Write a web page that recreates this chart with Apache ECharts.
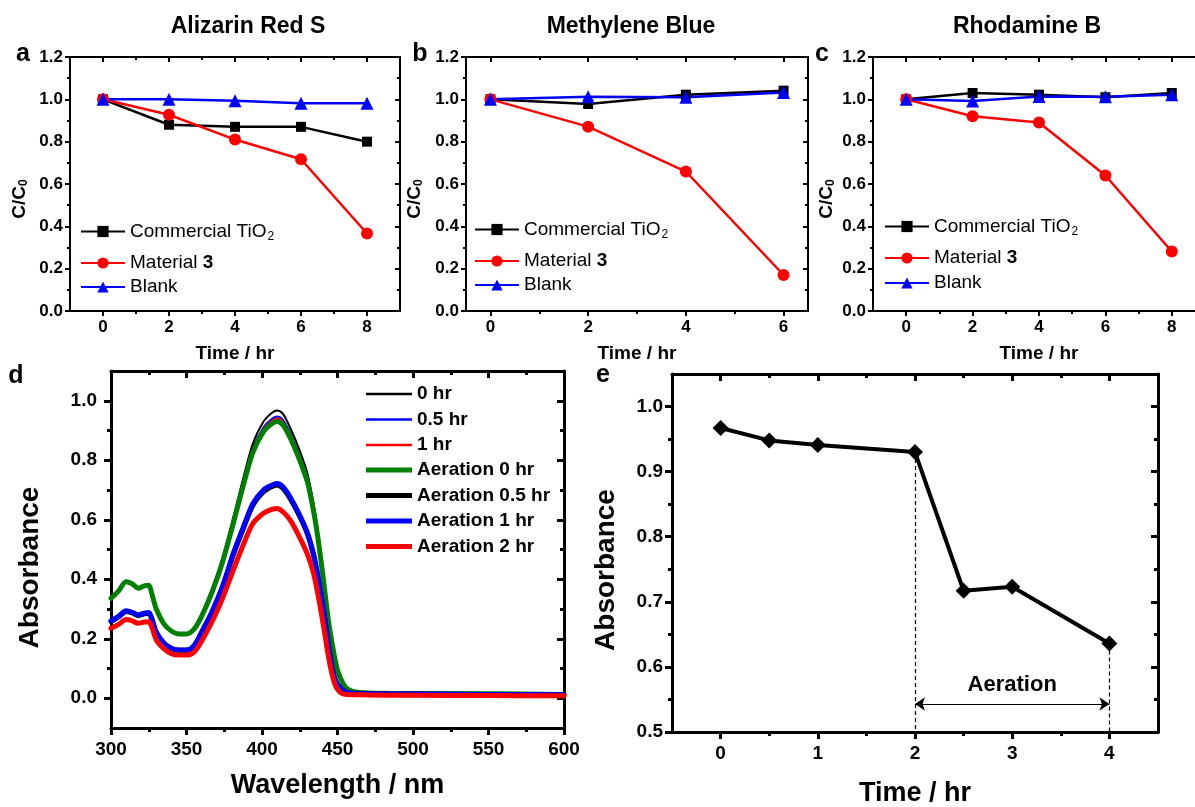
<!DOCTYPE html>
<html><head><meta charset="utf-8">
<script src="https://cdn.jsdelivr.net/npm/echarts@6/dist/echarts.min.js"></script>
<style>html,body{margin:0;padding:0;background:#fff}#c{width:1195px;height:807px}</style>
</head><body><div id="c"></div>
<script>
// ---------------- data ----------------
// panel a : Alizarin Red S
const timeA  = [0, 2, 4, 6, 8];
const tio2A  = [1.00, 0.880, 0.870, 0.870, 0.800];
const mat3A  = [1.00, 0.927, 0.810, 0.717, 0.366];
const blankA = [1.00, 1.000, 0.993, 0.982, 0.982];
// panel b : Methylene Blue
const timeB  = [0, 2, 4, 6];
const tio2B  = [1.00, 0.978, 1.022, 1.041];
const mat3B  = [1.00, 0.871, 0.659, 0.170];
const blankB = [1.00, 1.012, 1.010, 1.032];
// panel c : Rhodamine B
const timeC  = [0, 2, 4, 6, 8];
const tio2C  = [1.00, 1.030, 1.022, 1.010, 1.030];
const mat3C  = [1.00, 0.920, 0.891, 0.640, 0.281];
const blankC = [1.00, 0.992, 1.013, 1.012, 1.022];
// panel d : UV-vis spectra
const wavelengths = [300,305,310,314,318,322,325,327,330,335,340,345,350,355,360,367,374,381,388,394,401,406,410,414,419,425,430,434,437,441,444,447,450,455,460,470,500,550,600];
const abs0h   = [0.338,0.362,0.395,0.388,0.372,0.380,0.382,0.354,0.302,0.252,0.227,0.217,0.217,0.234,0.280,0.368,0.475,0.608,0.748,0.857,0.930,0.957,0.967,0.955,0.905,0.832,0.757,0.658,0.560,0.398,0.268,0.171,0.097,0.040,0.023,0.018,0.016,0.015,0.013];
const abs05h  = [0.337,0.361,0.393,0.386,0.371,0.379,0.381,0.353,0.301,0.251,0.226,0.216,0.216,0.233,0.277,0.363,0.467,0.597,0.734,0.841,0.911,0.937,0.947,0.935,0.887,0.815,0.743,0.648,0.551,0.392,0.264,0.168,0.096,0.040,0.023,0.018,0.016,0.015,0.013];
const abs1h   = [0.336,0.360,0.392,0.385,0.370,0.378,0.380,0.352,0.300,0.250,0.226,0.216,0.216,0.232,0.276,0.361,0.464,0.594,0.729,0.835,0.905,0.930,0.940,0.928,0.881,0.808,0.739,0.645,0.548,0.390,0.263,0.167,0.096,0.040,0.023,0.018,0.016,0.015,0.013];
const absAer0  = [0.336,0.360,0.392,0.385,0.370,0.378,0.380,0.352,0.300,0.250,0.226,0.216,0.216,0.232,0.275,0.358,0.460,0.588,0.722,0.827,0.896,0.921,0.930,0.918,0.872,0.800,0.728,0.633,0.540,0.385,0.260,0.168,0.095,0.039,0.023,0.018,0.016,0.015,0.013];
const absAer05 = [0.258,0.273,0.292,0.287,0.278,0.284,0.286,0.266,0.220,0.185,0.167,0.161,0.161,0.176,0.221,0.290,0.375,0.483,0.575,0.649,0.694,0.710,0.717,0.705,0.668,0.611,0.553,0.484,0.409,0.288,0.178,0.089,0.046,0.022,0.017,0.015,0.014,0.013,0.012];
const absAer1  = [0.260,0.275,0.294,0.289,0.280,0.286,0.288,0.268,0.222,0.186,0.168,0.162,0.162,0.177,0.222,0.292,0.378,0.487,0.580,0.655,0.700,0.715,0.722,0.710,0.673,0.615,0.557,0.487,0.412,0.290,0.180,0.090,0.047,0.022,0.017,0.015,0.014,0.013,0.012];
const absAer2  = [0.235,0.248,0.265,0.260,0.252,0.256,0.257,0.240,0.196,0.167,0.150,0.145,0.145,0.155,0.192,0.258,0.338,0.431,0.521,0.588,0.622,0.634,0.638,0.626,0.596,0.540,0.485,0.422,0.350,0.235,0.140,0.068,0.030,0.013,0.012,0.011,0.010,0.009,0.008];
// panel e : absorbance vs time
const timeE = [0, 0.5, 1, 2, 2.5, 3, 4];
const absE  = [0.967, 0.948, 0.941, 0.930, 0.717, 0.723, 0.636];
const aerationStart = 2, aerationEnd = 4, aerationArrowY = 0.543;

// tick values
const ticksTime8 = [0, 2, 4, 6, 8],  minorTime8 = [1, 3, 5, 7];
const ticksTime6 = [0, 2, 4, 6],     minorTime6 = [1, 3, 5];
const ticksCC0 = [0, 0.2, 0.4, 0.6, 0.8, 1.0, 1.2], minorCC0 = [0.1, 0.3, 0.5, 0.7, 0.9, 1.1];
const ticksWl = [300, 350, 400, 450, 500, 550, 600], minorWl = [325, 375, 425, 475, 525, 575];
const ticksAbsD = [0, 0.2, 0.4, 0.6, 0.8, 1.0], minorAbsD = [0.1, 0.3, 0.5, 0.7, 0.9];
const ticksTimeE = [0, 1, 2, 3, 4], minorTimeE = [0.5, 1.5, 2.5, 3.5];
const ticksAbsE = [0.5, 0.6, 0.7, 0.8, 0.9, 1.0], minorAbsE = [0.55, 0.65, 0.75, 0.85, 0.95];

// ---------------- helpers ----------------
const FONT = '"Liberation Sans", Arial, sans-serif';
const f1 = v => Number(v).toFixed(1);
const f0 = v => String(Math.round(v));
function axisSet(dim, grid, o) {
  const pos = dim === 'x' ? ['bottom', 'top'] : ['left', 'right'];
  const line = {color: '#000', width: o.lw};
  const common = {type: 'value', gridIndex: grid, min: o.min, max: o.max, splitLine: {show: false}};
  return [
    Object.assign({}, common, {
      position: pos[0],
      axisLine: {show: true, onZero: false, lineStyle: line},
      axisTick: {show: true, inside: false, length: o.tl, customValues: o.major, lineStyle: line},
      axisLabel: {show: true, customValues: o.major, formatter: o.fmt, margin: o.margin, color: '#000',
                  fontFamily: FONT, fontWeight: 'bold', fontSize: o.fs},
      name: o.name, nameLocation: 'middle', nameGap: o.nameGap, nameTextStyle: o.nameStyle
    }),
    Object.assign({}, common, {
      position: pos[0],
      axisLine: {show: false, onZero: false},
      axisTick: {show: true, inside: false, length: o.mtl, customValues: o.minor, lineStyle: line},
      axisLabel: {show: false}
    }),
    Object.assign({}, common, {
      position: pos[1],
      axisLine: {show: true, onZero: false, lineStyle: line},
      axisTick: {show: true, inside: true, length: o.tl, customValues: o.major, lineStyle: line},
      axisLabel: {show: false}
    }),
    Object.assign({}, common, {
      position: pos[1],
      axisLine: {show: false, onZero: false},
      axisTick: {show: true, inside: true, length: o.mtl, customValues: o.minor, lineStyle: line},
      axisLabel: {show: false}
    })
  ];
}
const smallName = {fontFamily: FONT, fontWeight: 'bold', fontSize: 19, color: '#000'};
const ccName = {fontFamily: FONT, fontWeight: 'bold', fontSize: 19, color: '#000', padding: [0, 30, 0, 0],
  rich: {s: {fontFamily: FONT, fontWeight: 'bold', fontSize: 12, color: '#000', padding: [9, 0, 0, 0]}}};
const absNameD = {fontFamily: FONT, fontWeight: 'bold', fontSize: 28, color: '#000', padding: [0, 36, 0, 0]};
const absNameE = {fontFamily: FONT, fontWeight: 'bold', fontSize: 28, color: '#000', padding: [0, 34, 0, 0]};
const bigX = {fontFamily: FONT, fontWeight: 'bold', fontSize: 27, color: '#000'};

const xAxes = [], yAxes = [];
// a
xAxes.push(...axisSet('x', 0, {min: -1, max: 9, major: ticksTime8, minor: minorTime8, fmt: f0, lw: 2, tl: 5, mtl: 3, fs: 17, margin: 8, name: 'Time / hr', nameGap: 33, nameStyle: smallName}));
yAxes.push(...axisSet('y', 0, {min: 0, max: 1.2, major: ticksCC0, minor: minorCC0, fmt: f1, lw: 2, tl: 5, mtl: 3, fs: 17, margin: 7, name: 'C/C{s|0}', nameGap: 40, nameStyle: ccName}));
// b
xAxes.push(...axisSet('x', 1, {min: -0.5, max: 6.5, major: ticksTime6, minor: minorTime6, fmt: f0, lw: 2, tl: 5, mtl: 3, fs: 17, margin: 8, name: 'Time / hr', nameGap: 33, nameStyle: smallName}));
yAxes.push(...axisSet('y', 1, {min: 0, max: 1.2, major: ticksCC0, minor: minorCC0, fmt: f1, lw: 2, tl: 5, mtl: 3, fs: 17, margin: 7, name: 'C/C{s|0}', nameGap: 41, nameStyle: ccName}));
// c
xAxes.push(...axisSet('x', 2, {min: -1, max: 9, major: ticksTime8, minor: minorTime8, fmt: f0, lw: 2, tl: 5, mtl: 3, fs: 17, margin: 8, name: 'Time / hr', nameGap: 33, nameStyle: smallName}));
yAxes.push(...axisSet('y', 2, {min: 0, max: 1.2, major: ticksCC0, minor: minorCC0, fmt: f1, lw: 2, tl: 5, mtl: 3, fs: 17, margin: 7, name: 'C/C{s|0}', nameGap: 36, nameStyle: ccName}));
// d
xAxes.push(...axisSet('x', 3, {min: 300, max: 600, major: ticksWl, minor: minorWl, fmt: f0, lw: 3, tl: 7, mtl: 4, fs: 19, margin: 12, name: 'Wavelength / nm', nameGap: 44, nameStyle: bigX}));
yAxes.push(...axisSet('y', 3, {min: -0.1, max: 1.1, major: ticksAbsD, minor: minorAbsD, fmt: f1, lw: 3, tl: 7, mtl: 4, fs: 19, margin: 14, name: 'Absorbance', nameGap: 67, nameStyle: absNameD}));
// e
xAxes.push(...axisSet('x', 4, {min: -0.5, max: 4.5, major: ticksTimeE, minor: minorTimeE, fmt: f0, lw: 3, tl: 7, mtl: 4, fs: 19, margin: 12, name: 'Time / hr', nameGap: 48, nameStyle: bigX}));
yAxes.push(...axisSet('y', 4, {min: 0.5, max: 1.05, major: ticksAbsE, minor: minorAbsE, fmt: f1, lw: 3, tl: 7, mtl: 4, fs: 19, margin: 9, name: 'Absorbance', nameGap: 52, nameStyle: absNameE}));

const zip = (xs, ys) => xs.map((x, i) => [x, ys[i]]);
function kinetic(g, xs, t, m, b) {
  const ax = {xAxisIndex: 4 * g, yAxisIndex: 4 * g};
  return [
    Object.assign({type: 'line', name: 'Commercial TiO2', data: zip(xs, t), symbol: 'rect', symbolSize: 10,
      itemStyle: {color: '#000'}, lineStyle: {color: '#000', width: 2.5}}, ax),
    Object.assign({type: 'line', name: 'Material 3', data: zip(xs, m), symbol: 'circle', symbolSize: 12,
      itemStyle: {color: '#ff0000'}, lineStyle: {color: '#ff0000', width: 2.5}}, ax),
    Object.assign({type: 'line', name: 'Blank', data: zip(xs, b), symbol: 'triangle', symbolSize: 13,
      itemStyle: {color: '#0000ff'}, lineStyle: {color: '#0000ff', width: 2.5}}, ax)
  ];
}
function spectrum(name, ys, color, width) {
  return {type: 'line', name: name, xAxisIndex: 12, yAxisIndex: 12, data: zip(wavelengths, ys),
    symbol: 'none', smooth: 0.3, itemStyle: {color: color},
    lineStyle: {color: color, width: width, join: 'round', cap: 'round'}};
}

const series = [
  ...kinetic(0, timeA, tio2A, mat3A, blankA),
  ...kinetic(1, timeB, tio2B, mat3B, blankB),
  ...kinetic(2, timeC, tio2C, mat3C, blankC),
  spectrum('0 hr', abs0h, '#000000', 2),
  spectrum('0.5 hr', abs05h, '#0000ff', 2),
  spectrum('1 hr', abs1h, '#ff0000', 2),
  spectrum('Aeration 0 hr', absAer0, '#008000', 5),
  spectrum('Aeration 0.5 hr', absAer05, '#000000', 5),
  spectrum('Aeration 1 hr', absAer1, '#0000ff', 5),
  spectrum('Aeration 2 hr', absAer2, '#ff0000', 5),
  {type: 'line', name: 'Absorbance', xAxisIndex: 16, yAxisIndex: 16, data: zip(timeE, absE),
   symbol: 'diamond', symbolSize: 16, itemStyle: {color: '#000'}, lineStyle: {color: '#000', width: 4},
   markLine: {silent: true, animation: false, symbol: ['none', 'none'], symbolSize: 10,
     lineStyle: {color: '#000', width: 1.2, type: [4, 3]}, label: {show: false},
     data: [
       [{coord: [aerationStart, absE[3]]}, {coord: [aerationStart, 0.5]}],
       [{coord: [aerationEnd, absE[6]]}, {coord: [aerationEnd, 0.5]}],
       [{coord: [aerationStart, aerationArrowY], symbol: 'arrow', lineStyle: {type: 'solid', width: 1.2, color: '#000'},
         label: {show: true, formatter: 'Aeration', position: 'insideMiddleTop', distance: 8, color: '#000',
                 fontFamily: FONT, fontWeight: 'bold', fontSize: 22}},
        {coord: [aerationEnd, aerationArrowY], symbol: 'arrow'}]
     ]}}
];

// legends
const legendFmt = n => n === 'Commercial TiO2' ? 'Commercial TiO{s|2}' : (n === 'Material 3' ? 'Material {b|3}' : n);
const legendText = {fontFamily: FONT, fontSize: 19, color: '#000',
  rich: {s: {fontFamily: FONT, fontSize: 12, color: '#000', padding: [10, 0, 0, 1]},
         b: {fontFamily: FONT, fontSize: 19, fontWeight: 'bold', color: '#000'}}};
function legendItem(name, left, top) {
  return {show: true, data: [name], left: left, top: top, orient: 'vertical', padding: 0,
    itemWidth: 44, itemHeight: 14, itemGap: 0, selectedMode: false, formatter: legendFmt, textStyle: legendText};
}
const legends = [
  legendItem('Commercial TiO2', 80, 222), legendItem('Material 3', 80, 253.5), legendItem('Blank', 80, 277.5),
  legendItem('Commercial TiO2', 474, 220), legendItem('Material 3', 474, 251.5), legendItem('Blank', 474, 275.5),
  legendItem('Commercial TiO2', 884, 217), legendItem('Material 3', 884, 248.5), legendItem('Blank', 884, 273.5),
  {show: true, data: ['0 hr', '0.5 hr', '1 hr'], left: 366, top: 384.5, orient: 'vertical', padding: 0,
   icon: 'rect', itemWidth: 46, itemHeight: 2.5, itemGap: 6.5, selectedMode: false,
   textStyle: {fontFamily: FONT, fontSize: 19, fontWeight: 'bold', color: '#000'}},
  {show: true, data: ['Aeration 0 hr', 'Aeration 0.5 hr', 'Aeration 1 hr', 'Aeration 2 hr'], left: 366, top: 460.5,
   orient: 'vertical', padding: 0, icon: 'rect', itemWidth: 46, itemHeight: 5, itemGap: 6.5, selectedMode: false,
   textStyle: {fontFamily: FONT, fontSize: 19, fontWeight: 'bold', color: '#000'}}
];

function txt(text, x, y, size) {
  return {type: 'text', x: x, y: y, silent: true,
    style: {text: text, font: 'bold ' + size + 'px ' + FONT, fill: '#000', align: 'center', verticalAlign: 'middle'}};
}

const option = {
  animation: false,
  backgroundColor: '#fff',
  grid: [
    {left: 70, top: 57, width: 330, height: 254, outerBoundsMode: 'none'},
    {left: 466, top: 57, width: 342, height: 254, outerBoundsMode: 'none'},
    {left: 873, top: 57, width: 332, height: 254, outerBoundsMode: 'none'},
    {left: 111, top: 371, width: 453, height: 357, outerBoundsMode: 'none'},
    {left: 672, top: 374, width: 486, height: 358, outerBoundsMode: 'none'}
  ],
  xAxis: xAxes,
  yAxis: yAxes,
  legend: legends,
  series: series,
  graphic: [
    txt('Alizarin Red S', 248, 27, 23),
    txt('Methylene Blue', 631, 27, 23),
    txt('Rhodamine B', 1027, 27, 23),
    txt('a', 23, 54, 25), txt('b', 420, 54, 25), txt('c', 822, 54, 25),
    txt('d', 16, 376, 25), txt('e', 603, 375, 25)
  ]
};
const chart = echarts.init(document.getElementById('c'), null, {renderer: 'canvas'});
chart.setOption(option);
</script></body></html>
